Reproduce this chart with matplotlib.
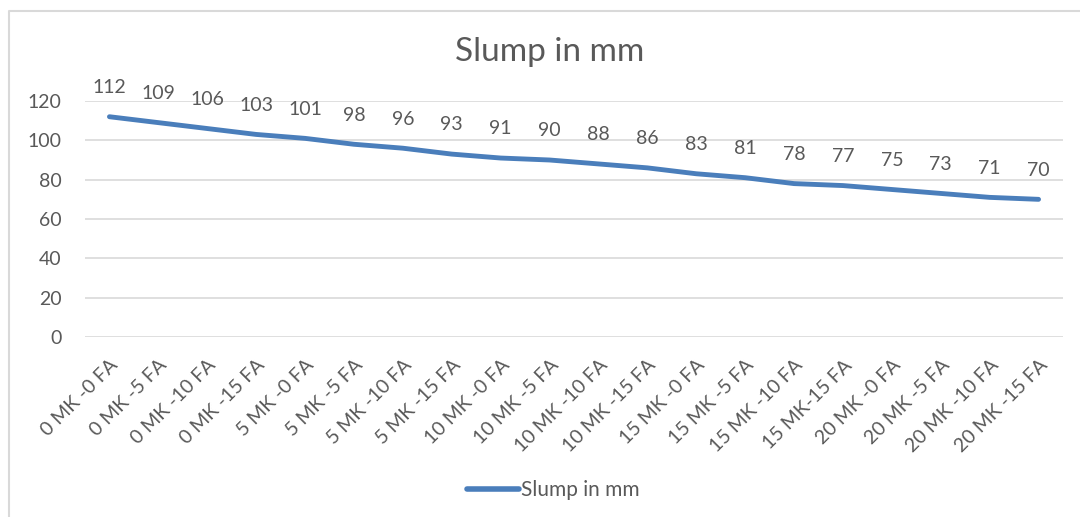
import matplotlib
matplotlib.use("Agg")
import matplotlib.pyplot as plt
from matplotlib.lines import Line2D

categories = ["0 MK -0 FA", "0 MK -5 FA", "0 MK -10 FA", "0 MK -15 FA",
              "5 MK -0 FA", "5 MK -5 FA", "5 MK -10 FA", "5 MK -15 FA",
              "10 MK -0 FA", "10 MK -5 FA", "10 MK -10 FA", "10 MK -15 FA",
              "15 MK -0 FA", "15 MK -5 FA", "15 MK -10 FA", "15 MK-15 FA",
              "20 MK -0 FA", "20 MK -5 FA", "20 MK -10 FA", "20 MK -15 FA"]
slump = [112, 109, 106, 103, 101, 98, 96, 93, 91, 90, 88, 86, 83, 81, 78, 77, 75, 73, 71, 70]
y_ticks = [0, 20, 40, 60, 80, 100, 120]

plt.rcParams['font.family'] = ['Lato', 'DejaVu Sans']
W, H = 1080, 517
fig = plt.figure(figsize=(W / 100, H / 100), dpi=100)
ax = fig.add_axes([85 / W, 1 - 337 / H, (1063 - 85) / W, (337 - 101) / H])

txt = '#595959'
grid = '#d9d9d9'
blue = '#4a7ebb'

x = list(range(len(categories)))
ax.plot(x, slump, color=blue, lw=3.5, solid_capstyle='round')
for xi, v in zip(x, slump):
    ax.annotate(str(v), (xi, v), xytext=(0, 21), textcoords='offset points',
                ha='center', va='center', fontsize=14, color=txt)

ax.set_xlim(-0.5, len(categories) - 0.5)
ax.set_ylim(0, 120)
ax.set_yticks(y_ticks)
ax.set_yticklabels([str(t) for t in y_ticks], fontsize=14, color=txt)
ax.set_xticks(x)
ax.set_xticklabels(categories, rotation=45, ha='right', rotation_mode='anchor',
                   fontsize=14, color=txt)
ax.tick_params(axis='y', length=0, pad=17)
ax.tick_params(axis='x', length=0, pad=14)
for s in ax.spines.values():
    s.set_visible(False)
ax.grid(axis='y', color=grid, lw=1.2)
ax.set_axisbelow(True)

fig.text(550 / W, 1 - 52 / H, "Slump in mm", ha='center', va='center', fontsize=24, color=txt)

handle = Line2D([], [], color=blue, lw=4, solid_capstyle='round')
fig.legend([handle], ["Slump in mm"], loc='center', bbox_to_anchor=(553 / W, 1 - 490 / H),
           frameon=False, fontsize=15, labelcolor=txt, handlelength=2.5, handletextpad=0.1)

# chart border (top and left visible)
fig.add_artist(Line2D([9 / W, 9 / W, 1.0], [0.0, 1 - 11 / H, 1 - 11 / H],
                      transform=fig.transFigure, color='#d9d9d9', lw=1.5))

fig.savefig("out.png", dpi=100, facecolor='white')
